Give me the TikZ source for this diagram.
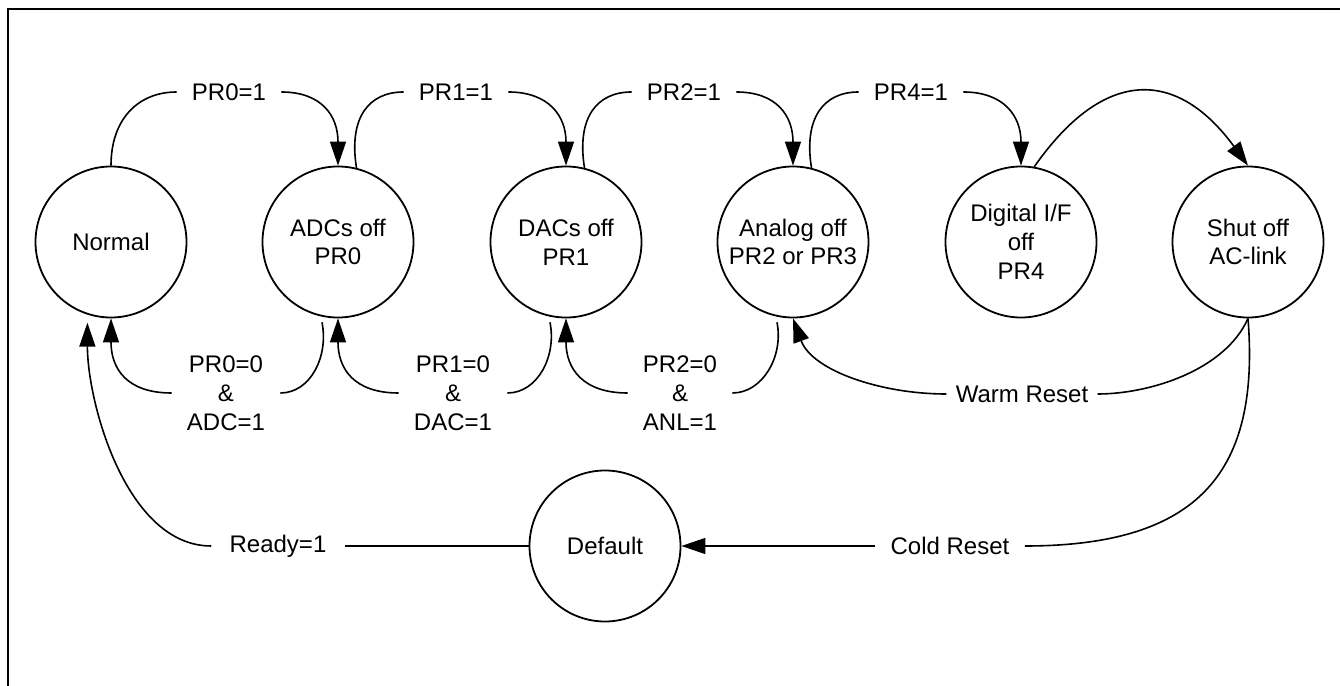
\documentclass[tikz,border=0pt]{standalone}
\usepackage{fontspec}
\setmainfont{Liberation Sans}
\usetikzlibrary{arrows.meta}

\begin{document}
\begin{tikzpicture}[x=0.5pt,y=0.5pt,font=\fontsize{12}{14.4}\selectfont,
  state/.style={circle,draw,line width=0.9pt,minimum size=75.5pt,inner sep=0pt,align=center},
  lbl/.style={inner xsep=7.5pt,inner ysep=2pt,align=center},
  trans/.style={line width=0.8pt},
  tip/.style={-{Triangle[length=12pt,width=8pt]}}]
\useasboundingbox (0,0) rectangle (1340,686);
\draw[line width=1.2pt] (8,0) -- (8,677) -- (1340,677);
% states
\node[state] (normal) at (111,444) {Normal};
\node[state] (adcoff) at (338,444) {ADCs off\\PR0};
\node[state] (dacoff) at (566,444) {DACs off\\PR1};
\node[state] (anaoff) at (793,444) {Analog off\\PR2 or PR3};
\node[state] (digoff) at (1021,444) {Digital I/F\\off\\PR4};
\node[state] (shutoff) at (1248,444) {Shut off\\AC-link};
\node[state] (default) at (605,140) {Default};
% labels
\node[lbl] (pr0on) at (229,594) {PR0=1};
\node[lbl] (pr1on) at (456,594) {PR1=1};
\node[lbl] (pr2on) at (684,594) {PR2=1};
\node[lbl] (pr4on) at (911,594) {PR4=1};
\node[lbl] (pr0off) at (226,293) {PR0=0\\\&\\ADC=1};
\node[lbl] (pr1off) at (453,293) {PR1=0\\\&\\DAC=1};
\node[lbl] (pr2off) at (680,293) {PR2=0\\\&\\ANL=1};
\node[lbl,inner xsep=4.5pt] (warm) at (1022,292) {Warm Reset};
\node[lbl] (cold) at (950,140) {Cold Reset};
\node[lbl,inner xsep=9pt] (ready) at (278,140) {Ready=1};
% power down
\draw[trans] (normal.north) .. controls +(0,47) and +(-38,0) .. (pr0on.west);
\draw[trans,tip] (pr0on.east) .. controls +(40,0) and +(0,50) .. (adcoff.north);
\draw[trans] (adcoff.76) .. controls +(-8,50) and +(-35,0) .. (pr1on.west);
\draw[trans,tip] (pr1on.east) .. controls +(40,0) and +(0,50) .. (dacoff.north);
\draw[trans] (dacoff.76) .. controls +(-8,50) and +(-35,0) .. (pr2on.west);
\draw[trans,tip] (pr2on.east) .. controls +(40,0) and +(0,50) .. (anaoff.north);
\draw[trans] (anaoff.76) .. controls +(-8,50) and +(-35,0) .. (pr4on.west);
\draw[trans,tip] (pr4on.east) .. controls +(40,0) and +(0,50) .. (digoff.north);
\draw[trans,tip] (digoff.80) .. controls +(70,100) and +(-71,97) .. (shutoff.north);
% power up
\draw[trans,shorten <=3pt] (adcoff.257) .. controls +(8,-40) and +(30,0) .. (pr0off.east);
\draw[trans,tip] (pr0off.west) .. controls +(-45,0) and +(0,-50) .. (normal.south);
\draw[trans,shorten <=3pt] (dacoff.257) .. controls +(8,-40) and +(30,0) .. (pr1off.east);
\draw[trans,tip] (pr1off.west) .. controls +(-45,0) and +(0,-50) .. (adcoff.south);
\draw[trans,shorten <=3pt] (anaoff.257) .. controls +(8,-40) and +(30,0) .. (pr2off.east);
\draw[trans,tip] (pr2off.west) .. controls +(-45,0) and +(0,-50) .. (dacoff.south);
% resets
\draw[trans] (shutoff.south) .. controls +(-23,-52) and +(52,0) .. (warm.east);
\draw[trans,tip] (warm.west) .. controls +(-66,0) and +(19,-52) .. (anaoff.south);
\draw[trans] (shutoff.south) .. controls +(12,-152) and +(176,0) .. (cold.east);
\draw[trans,tip] (cold.west) -- (default.east);
\draw[trans] (default.west) -- (ready.east);
\draw[trans,tip,shorten >=4pt] (ready.west) .. controls +(-85,0) and +(0,-88) .. (normal.252);
\end{tikzpicture}
\end{document}
